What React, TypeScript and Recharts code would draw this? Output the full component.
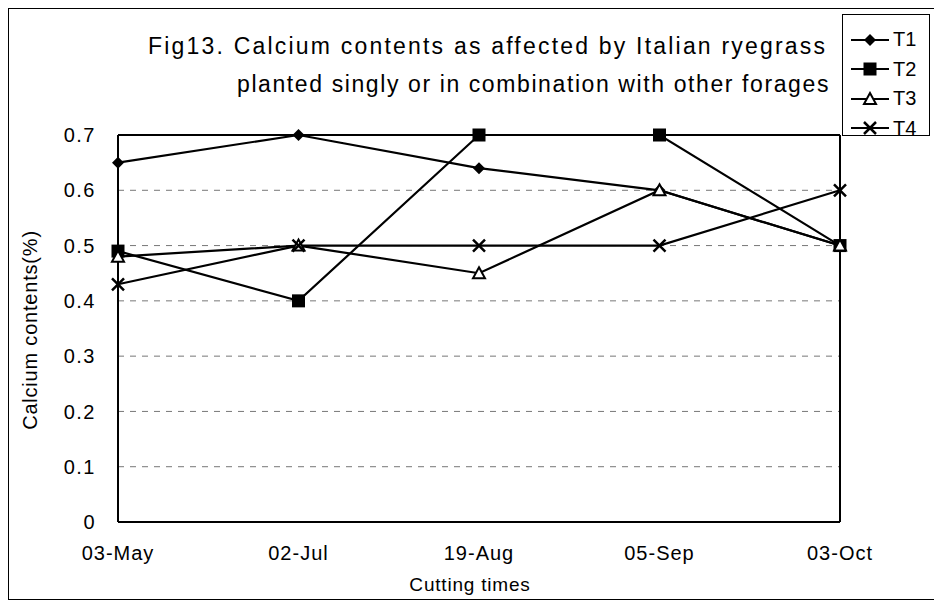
import { LineChart, Line, XAxis, YAxis, CartesianGrid, ReferenceLine } from "recharts";

const cuttingTimes = ["03-May", "02-Jul", "19-Aug", "05-Sep", "03-Oct"];
const t1 = [0.65, 0.7, 0.64, 0.6, 0.5];
const t2 = [0.49, 0.4, 0.7, 0.7, 0.5];
const t3 = [0.48, 0.5, 0.45, 0.6, 0.5];
const t4 = [0.43, 0.5, 0.5, 0.5, 0.6];
const yTicks = [0, 0.1, 0.2, 0.3, 0.4, 0.5, 0.6, 0.7];

const series = [
  { name: "T1", values: t1, shape: "diamond" },
  { name: "T2", values: t2, shape: "square" },
  { name: "T3", values: t3, shape: "triangle" },
  { name: "T4", values: t4, shape: "cross" },
];

const data = cuttingTimes.map((time, i) => {
  const row: any = { time };
  series.forEach((s) => (row[s.name] = s.values[i]));
  return row;
});

const FONT = "'Liberation Sans', Arial, sans-serif";

function Marker({ cx, cy, shape }: { cx: number; cy: number; shape: string }) {
  if (cx == null || cy == null) return null;
  if (shape === "diamond") {
    return <path d={`M${cx},${cy - 6}L${cx + 6},${cy}L${cx},${cy + 6}L${cx - 6},${cy}Z`} fill="#000" />;
  }
  if (shape === "square") {
    return <rect x={cx - 6.5} y={cy - 6.5} width={13} height={13} fill="#000" />;
  }
  if (shape === "triangle") {
    return (
      <path
        d={`M${cx},${cy - 6}L${cx + 6},${cy + 5}L${cx - 6},${cy + 5}Z`}
        fill="#fff"
        stroke="#000"
        strokeWidth={2}
      />
    );
  }
  return (
    <path
      d={`M${cx - 6},${cy - 6}L${cx + 6},${cy + 6}M${cx + 6},${cy - 6}L${cx - 6},${cy + 6}`}
      stroke="#000"
      strokeWidth={2.5}
    />
  );
}

function LegendIcon({ shape }: { shape: string }) {
  return (
    <svg width={38} height={16} style={{ display: "block" }}>
      <line x1={0} y1={8} x2={38} y2={8} stroke="#000" strokeWidth={2} />
      <Marker cx={19} cy={8} shape={shape} />
    </svg>
  );
}

export default function App() {
  return (
    <div
      style={{
        position: "absolute",
        left: 0,
        top: 0,
        width: 934,
        height: 603,
        overflow: "hidden",
        background: "#fff",
        fontFamily: FONT,
        color: "#000",
      }}
    >
      <div
        style={{
          position: "absolute",
          left: 8,
          top: 8,
          width: 940,
          height: 592,
          border: "1.5px solid #000",
          boxSizing: "border-box",
        }}
      />
      <LineChart
        width={934}
        height={603}
        data={data}
        margin={{ top: 135, right: 94, left: 58, bottom: 31 }}
        style={{ position: "absolute", left: 0, top: 0 }}
      >
        <CartesianGrid vertical={false} stroke="#777" strokeDasharray="6 6" />
        <XAxis
          dataKey="time"
          scale="point"
          padding={{ left: 0, right: 0 }}
          height={50}
          tickLine={false}
          tickMargin={18}
          axisLine={{ stroke: "#000", strokeWidth: 2 }}
          tick={{ fill: "#000", fontSize: 20, fontFamily: FONT, letterSpacing: 1 }}
          interval={0}
        />
        <YAxis
          width={60}
          domain={[0, 0.7]}
          ticks={yTicks}
          tickLine={false}
          tickMargin={16}
          axisLine={{ stroke: "#000", strokeWidth: 2 }}
          tick={{ fill: "#000", fontSize: 20, fontFamily: FONT, letterSpacing: 1.5 }}
          tickFormatter={(v: number) => (v === 0 ? "0" : v.toFixed(1))}
        />
        <ReferenceLine y={0.7} stroke="#000" strokeWidth={2} />
        <ReferenceLine x="03-Oct" stroke="#000" strokeWidth={2} />
        {series.map((s) => (
          <Line
            key={s.name}
            dataKey={s.name}
            stroke="#000"
            strokeWidth={2.2}
            isAnimationActive={false}
            dot={(p: any) => <Marker key={`${s.name}-${p.index}`} cx={p.cx} cy={p.cy} shape={s.shape} />}
            activeDot={false}
          />
        ))}
      </LineChart>

      <div
        style={{
          position: "absolute",
          left: 148,
          top: 33,
          fontSize: 23,
          letterSpacing: 2.2,
          whiteSpace: "nowrap",
        }}
      >
        Fig13. Calcium contents as affected by Italian ryegrass
      </div>
      <div
        style={{
          position: "absolute",
          right: 934 - 830,
          top: 71,
          fontSize: 23,
          letterSpacing: 1.6,
          whiteSpace: "nowrap",
        }}
      >
        planted singly or in combination with other forages
      </div>

      <div
        style={{
          position: "absolute",
          left: 30,
          top: 330,
          fontSize: 20,
          letterSpacing: 0.8,
          whiteSpace: "nowrap",
          transform: "translate(-50%, -50%) rotate(-90deg)",
        }}
      >
        Calcium contents(%)
      </div>
      <div
        style={{
          position: "absolute",
          left: 470,
          top: 585,
          fontSize: 19,
          letterSpacing: 0.8,
          whiteSpace: "nowrap",
          transform: "translate(-50%, -50%)",
        }}
      >
        Cutting times
      </div>

      <div
        style={{
          position: "absolute",
          left: 842,
          top: 14,
          width: 88,
          height: 122,
          border: "1.5px solid #000",
          boxSizing: "border-box",
          background: "#fff",
          padding: "10px 0 0 8px",
        }}
      >
        {series.map((s) => (
          <div key={s.name} style={{ display: "flex", alignItems: "center", height: 29.5 }}>
            <LegendIcon shape={s.shape} />
            <span style={{ fontSize: 20, marginLeft: 4 }}>{s.name}</span>
          </div>
        ))}
      </div>
    </div>
  );
}
